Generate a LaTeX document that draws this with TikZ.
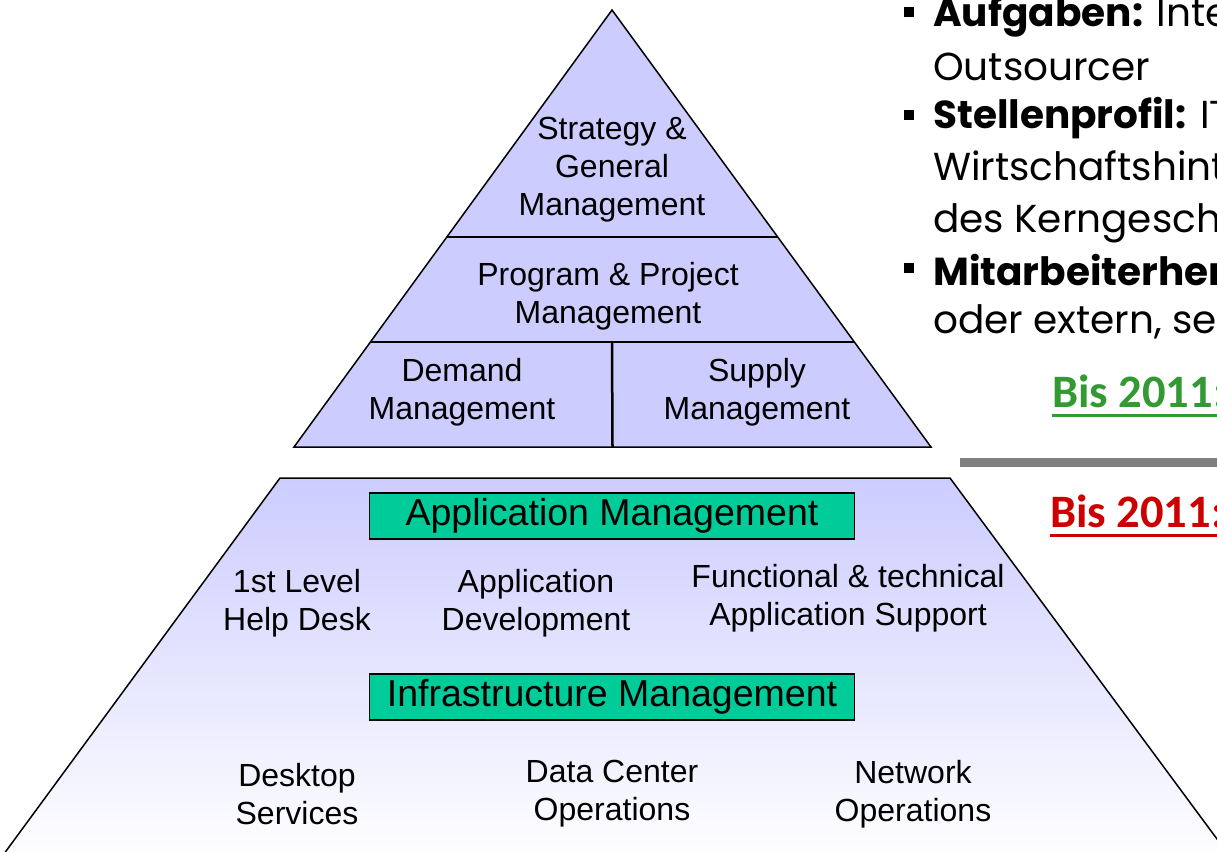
\documentclass[tikz,border=0pt]{standalone}
\usepackage{fontspec}
\setmainfont{Liberation Sans}
\newfontfamily\gothic{Poppins}
\newfontfamily\calib{Carlito}
\usetikzlibrary{calc}
\definecolor{lav}{RGB}{204,204,255}
\definecolor{boxgreen}{RGB}{0,204,153}
\definecolor{bisgreen}{RGB}{51,153,51}
\definecolor{bisred}{RGB}{204,0,0}
\definecolor{rulegray}{RGB}{128,128,128}
\begin{document}
\begin{tikzpicture}[
x=1pt, y=-1pt,
layer/.style={align=center, inner sep=0pt, font=\fontsize{32}{38}\selectfont},
mgmtbox/.style={rectangle, draw=black, line width=1.5pt, fill=boxgreen, minimum width=485pt, minimum height=46pt, inner sep=0pt, font=\fontsize{37.5}{44}\selectfont},
sep/.style={line width=2.5pt},
bullet/.style={rectangle, fill=black, minimum size=10pt, inner sep=0pt},
point/.style={anchor=base west, inner sep=0pt, font=\gothic\fontsize{39}{46}\selectfont},
bis/.style={anchor=base west, inner sep=0pt, font=\calib\bfseries\fontsize{46.5}{56}\selectfont},
]
\useasboundingbox (0,0) rectangle (1217,851);
\clip (0,0) rectangle (1217,851);
\coordinate (T) at (612,10);
\coordinate (BL) at (294,447);
\coordinate (BR) at (931,447);
\filldraw[fill=lav, line width=1.5pt] (T) -- (BL) -- (BR) -- cycle;
\draw[sep] ($(T)!0.5195!(BL)$) -- ($(T)!0.5195!(BR)$);
\draw[sep] ($(T)!0.7597!(BL)$) coordinate (ML) -- ($(T)!0.7597!(BR)$);
\draw[sep] (612,342) -- ($(BL)!0.5!(BR)$);
\node[layer] (strat) at (612,170) {Strategy \&\\General\\Management};
\node[layer] (prog) at (608,296) {Program \& Project\\Management};
\node[layer] (demand) at (462,392) {Demand\\Management};
\node[layer] (supply) at (757,392) {Supply\\Management};
\coordinate (TL) at (280,478);
\coordinate (TR) at (950,478);
\shade[top color=lav, bottom color=white, draw=black, line width=1.5pt]
  (TL) -- (TR) -- (1234,862) -- (-2,862) -- cycle;
\node[mgmtbox] (app) at (612,516) {Application Management};
\node[layer] (help) at (297,603) {1st Level\\Help Desk};
\node[layer] (dev) at (536,603) {Application\\Development};
\node[layer] (func) at (848,598) {Functional \& technical\\Application Support};
\node[mgmtbox] (infra) at (612,697) {Infrastructure Management};
\node[layer] (desk) at (297,794) {Desktop\\Services};
\node[layer] (dc) at (612,794) {Data Center\\Operations};
\node[layer] (net) at (913,794) {Network\\Operations};
\node[bullet] (b1) at (909,12) {};
\node[bullet] (b2) at (909,115) {};
\node[bullet] (b3) at (909,268) {};
\node[point] (t1) at (933,27) {\textbf{Aufgaben:} Inte};
\node[point] (t2) at (933,80) {Outsourcer};
\node[point] (t3) at (933,128) {\textbf{Stellenprofil:} IT};
\node[point] (t4) at (933,180) {Wirtschaftshint};
\node[point] (t5) at (933,232) {des Kerngesch};
\node[point] (t6) at (933,285) {\textbf{Mitarbeiterher}};
\node[point] (t7) at (933,333) {oder extern, se};
\node[bis, text=bisgreen] (bisA) at (1052,407) {Bis 2011:};
\draw[bisgreen, line width=3pt] ([yshift=-8pt]bisA.base west) -- ([yshift=-8pt]bisA.base east);
\draw[rulegray, line width=9pt] (960,462.5) -- (1230,462.5);
\node[bis, text=bisred] (bisB) at (1050,527) {Bis 2011:};
\draw[bisred, line width=3pt] ([yshift=-8pt]bisB.base west) -- ([yshift=-8pt]bisB.base east);
\end{tikzpicture}
\end{document}
